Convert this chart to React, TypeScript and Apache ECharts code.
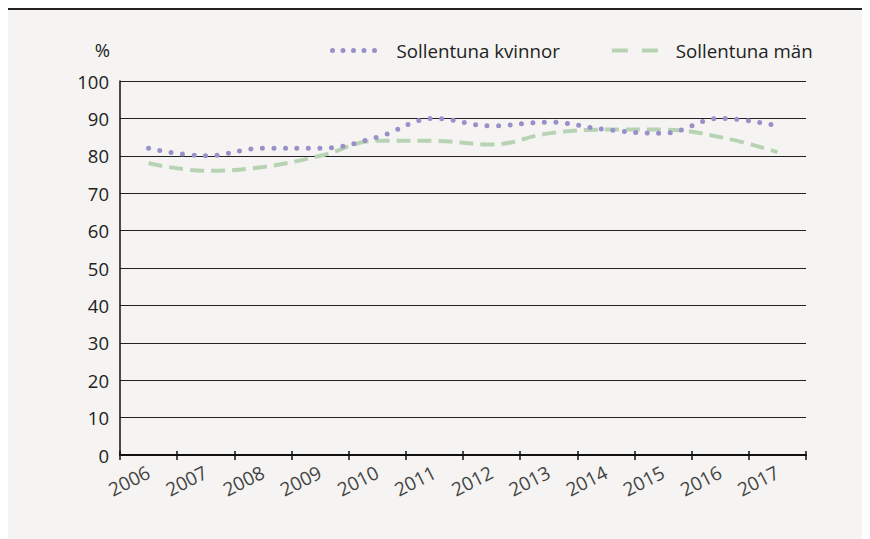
import React, { useEffect, useRef } from "react";
import * as echarts from "echarts";

const years = ["2006", "2007", "2008", "2009", "2010", "2011", "2012", "2013", "2014", "2015", "2016", "2017"];
const kvinnor = [82, 80, 82, 82, 85, 90, 88, 89, 87, 86, 90, 88];
const man = [78, 76, 77, 80, 84, 84, 83, 86, 87, 87, 85, 81];
const seriesNames = ["Sollentuna kvinnor", "Sollentuna män"];
const yTicks = { min: 0, max: 100, interval: 10 };

const FONT = "'Open Sans', sans-serif";
const PURPLE = "#9a90c9";
const GREEN = "#b8d3b4";

export default function App() {
  const ref = useRef<HTMLDivElement>(null);
  useEffect(() => {
    if (!ref.current) return;
    const chart = echarts.init(ref.current, null, { renderer: "svg" });
    chart.setOption({
      animation: false,
      backgroundColor: "transparent",
      textStyle: { fontFamily: FONT },
      grid: { left: 112, right: 64, top: 71, bottom: 84 },
      legend: {
        left: 317,
        top: 26,
        itemWidth: 47,
        itemHeight: 6,
        itemGap: 50,
        textStyle: { fontFamily: FONT, fontSize: 18.7, color: "#222", padding: [0, 0, 0, 12] },
        data: [
          {
            name: seriesNames[0],
            itemStyle: { opacity: 0 },
            lineStyle: { width: 5, type: [0, 10.5], cap: "round", color: PURPLE },
          },
          {
            name: seriesNames[1],
            itemStyle: { opacity: 0 },
            lineStyle: { width: 4, type: [16, 14], color: GREEN },
          },
        ],
      },
      xAxis: [
        {
          type: "category",
          data: years,
          boundaryGap: true,
          axisLine: { lineStyle: { color: "#111", width: 2 } },
          axisTick: { show: true, length: 5, lineStyle: { color: "#111", width: 1.5 } },
          axisLabel: { rotate: 27, fontSize: 19, color: "#444", margin: 16, fontFamily: FONT },
        },
        {
          type: "category",
          data: years,
          position: "bottom",
          boundaryGap: true,
          axisLine: { show: false },
          axisTick: { show: true, inside: true, length: 4, lineStyle: { color: "#111", width: 1.5 } },
          axisLabel: { show: false },
        },
      ],
      yAxis: {
        type: "value",
        min: yTicks.min,
        max: yTicks.max,
        interval: yTicks.interval,
        name: "%",
        nameLocation: "end",
        nameGap: 22,
        nameTextStyle: { fontSize: 18.5, color: "#222", align: "right", padding: [0, 10, 0, 0], fontFamily: FONT },
        axisLine: { show: true, lineStyle: { color: "#111", width: 1.5 } },
        axisTick: { show: false },
        axisLabel: { fontSize: 18.5, color: "#222", margin: 11, fontFamily: FONT },
        splitLine: { lineStyle: { color: "#222", width: 1 } },
      },
      series: [
        {
          name: seriesNames[0],
          type: "line",
          data: kvinnor,
          smooth: 0.4,
          showSymbol: false,
          symbol: "none",
          color: PURPLE,
          lineStyle: { color: PURPLE, width: 5, type: [0, 11.5], cap: "round" },
          z: 3,
        },
        {
          name: seriesNames[1],
          type: "line",
          data: man,
          smooth: 0.4,
          showSymbol: false,
          symbol: "none",
          color: GREEN,
          lineStyle: { color: GREEN, width: 4, type: [14, 7] },
          z: 2,
        },
      ],
    });
    return () => chart.dispose();
  }, []);
  return (
    <div
      style={{
        width: 862,
        height: 531,
        background: "#f5f4f2",
        borderTop: "2px solid #222",
        boxSizing: "border-box",
      }}
    >
      <div ref={ref} style={{ width: 862, height: 529 }} />
    </div>
  );
}
